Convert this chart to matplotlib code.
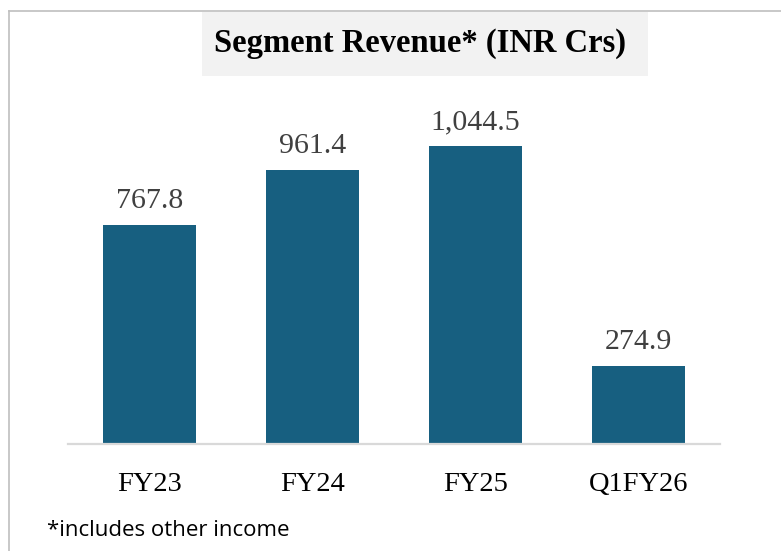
import matplotlib
matplotlib.use("Agg")
import matplotlib.pyplot as plt
from matplotlib.patches import Rectangle
from matplotlib.lines import Line2D

categories = ["FY23", "FY24", "FY25", "Q1FY26"]
values = [767.8, 961.4, 1044.5, 274.9]
value_labels = ["767.8", "961.4", "1,044.5", "274.9"]
title = "Segment Revenue* (INR Crs)"
footnote = "*includes other income"

W, H = 781, 551
fig = plt.figure(figsize=(W / 100, H / 100), dpi=100)
fig.patch.set_facecolor("white")

def fx(px):
    return px / W

def fy(py):
    return 1 - py / H

# outer border (top and left visible)
fig.add_artist(Line2D([fx(8.5), 1.0], [fy(10.5), fy(10.5)], color="#BFBFBF", lw=1.2))
fig.add_artist(Line2D([fx(8.5), fx(8.5)], [fy(10.5), 0.0], color="#BFBFBF", lw=1.2))

# title box
fig.add_artist(Rectangle((fx(202), fy(75.5)), fx(648) - fx(202), fy(11.5) - fy(75.5),
                         facecolor="#F2F2F2", edgecolor="none", zorder=0))
fig.text(fx(420.5), fy(52), title, ha="center", va="baseline", fontsize=23.5,
         fontweight="bold", family="Liberation Serif", color="black")

ax = fig.add_axes([fx(68), fy(444), fx(720) - fx(68), fy(102) - fy(444)])
x = list(range(len(categories)))
bars = ax.bar(x, values, width=0.57, color="#175F80")
ax.set_xlim(-0.5, len(categories) - 0.5)
ax.set_ylim(0, 1200)
for s in ["top", "left", "right"]:
    ax.spines[s].set_visible(False)
ax.spines["bottom"].set_color("#D9D9D9")
ax.spines["bottom"].set_linewidth(1.6)
ax.set_yticks([])
ax.set_xticks([])
ax.set_facecolor("none")

for xi, cat in zip(x, categories):
    ax.annotate(cat, (xi, 0), xycoords=("data", "axes fraction"),
                xytext=(0, -47 * 0.72), textcoords="offset points",
                ha="center", va="baseline", fontsize=20.5,
                family="Liberation Serif", color="black")

for xi, v, lab in zip(x, values, value_labels):
    ax.annotate(lab, (xi, v), xytext=(0, 17 * 0.72), textcoords="offset points",
                ha="center", va="baseline", fontsize=21.5, family="Liberation Serif",
                color="#404040")

fig.text(fx(47), fy(536), footnote, ha="left", va="baseline", fontsize=16,
         family="Open Sans", color="black")

fig.savefig("out.png", dpi=100)
